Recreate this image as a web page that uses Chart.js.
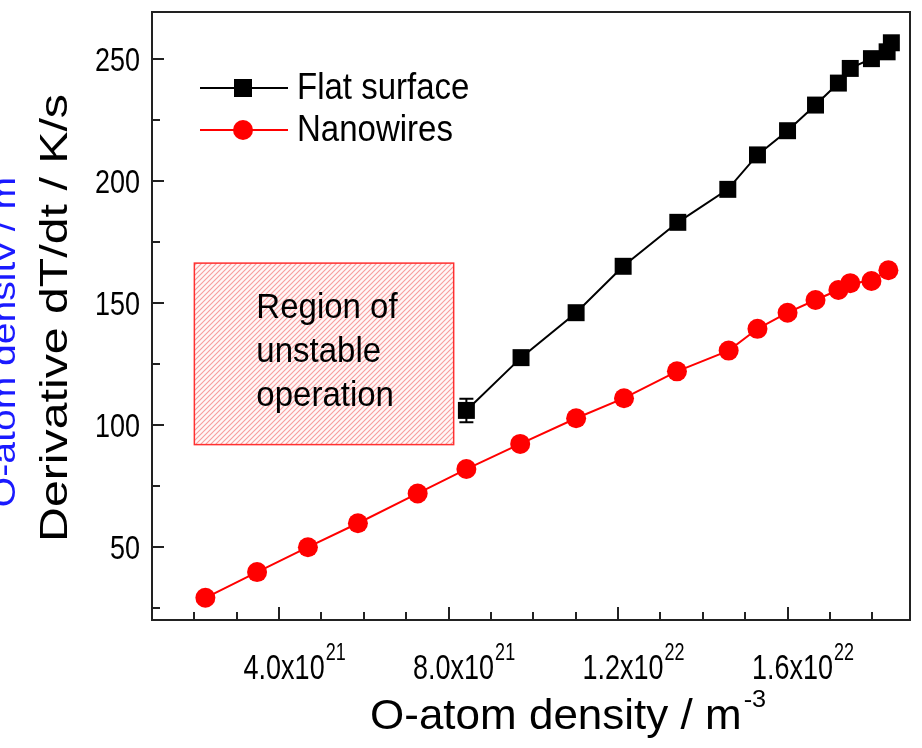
<!DOCTYPE html>
<html>
<head>
<meta charset="utf-8">
<script src="https://cdn.jsdelivr.net/npm/chart.js@4.4.1/dist/chart.umd.min.js"></script>
<style>
  html, body { margin: 0; padding: 0; background: #fff; }
  canvas { display: block; }
</style>
</head>
<body>
<canvas id="chart" width="922" height="748"></canvas>
<script>
// Nanowires (red circles)
const xNano = [2.26e21, 3.48e21, 4.68e21, 5.86e21, 7.27e21, 8.42e21, 9.69e21, 1.101e22, 1.214e22,
  1.339e22, 1.461e22, 1.529e22, 1.600e22, 1.666e22, 1.720e22, 1.748e22, 1.798e22, 1.838e22];
const yNano = [29.3, 39.8, 50, 59.8, 72, 82, 92.3, 102.8, 111, 122, 130.5, 139.4, 146, 151.2, 155.3, 158.1, 159, 163.4];

// Flat surface (black squares) with error bars
const xFlat = [8.42e21, 9.71e21, 1.101e22, 1.212e22, 1.341e22, 1.459e22, 1.529e22, 1.600e22, 1.666e22,
  1.720e22, 1.748e22, 1.798e22, 1.835e22, 1.845e22];
const yFlat = [106, 127.6, 146, 165, 183, 196.5, 210.6, 220.5, 231, 240, 246, 250, 252.8, 256.5];
const errFlat = [4.8, 1.5, 1.2, 1.2, 1.2, 1.5, 1.5, 1.2, 1.2, 1.2, 1.2, 1.2, 1.2, 1.2];

// axes
const xMin = 1e21, xMax = 1.889e22;
const yMin = 20.2, yMax = 269.1;
const xMinorTicks = [2e21, 3e21, 4e21, 5e21, 6e21, 7e21, 8e21, 9e21, 1e22, 1.1e22, 1.2e22, 1.3e22,
  1.4e22, 1.5e22, 1.6e22, 1.7e22, 1.8e22];
const xMajorTicks = [4e21, 8e21, 1.2e22, 1.6e22];
const xLabelBase = ['4.0x10', '8.0x10', '1.2x10', '1.6x10'];
const xLabelExp = ['21', '21', '22', '22'];
const yTicks = [25, 50, 75, 100, 125, 150, 175, 200, 225, 250];
const yMajorTicks = [50, 100, 150, 200, 250];

// unstable region box
const regionX = [2.0e21, 8.12e21];
const regionY = [92, 166.3];
const regionText = ['Region of', 'unstable', 'operation'];

const FONT = '"Liberation Sans", Arial, sans-serif';

function txt(ctx, s, x, y, size, o) {
  o = o || {};
  ctx.save();
  ctx.translate(x, y);
  if (o.rot) ctx.rotate(-Math.PI / 2);
  ctx.scale(o.sx || 1, o.sy || 1);
  ctx.font = size + 'px ' + FONT;
  ctx.textAlign = o.align || 'left';
  ctx.textBaseline = 'alphabetic';
  ctx.fillStyle = o.color || '#000';
  ctx.fillText(s, 0, 0);
  ctx.restore();
}

function hatch(ctx) {
  const p = document.createElement('canvas');
  p.width = p.height = 5;
  const g = p.getContext('2d');
  g.fillStyle = '#fff8f8';
  g.fillRect(0, 0, 5, 5);
  g.strokeStyle = 'rgba(242,96,96,0.6)';
  g.lineWidth = 1.1;
  g.beginPath();
  g.moveTo(-1, 6); g.lineTo(6, -1);
  g.moveTo(-1, 1); g.lineTo(1, -1);
  g.moveTo(4, 6); g.lineTo(6, 4);
  g.stroke();
  return ctx.createPattern(p, 'repeat');
}

const decor = {
  id: 'decor',
  beforeDatasetsDraw(chart) {
    const { ctx, scales: { x, y } } = chart;
    const l = x.getPixelForValue(regionX[0]), r = x.getPixelForValue(regionX[1]);
    const t = y.getPixelForValue(regionY[1]), b = y.getPixelForValue(regionY[0]);
    ctx.save();
    ctx.fillStyle = hatch(ctx);
    ctx.fillRect(l, t, r - l, b - t);
    ctx.strokeStyle = '#ff3030';
    ctx.lineWidth = 1.5;
    ctx.strokeRect(l, t, r - l, b - t);
    ctx.restore();
    regionText.forEach((s, i) => txt(ctx, s, l + 62, t + 55 + i * 44, 33, { sy: 1.05 }));
  },
  afterDatasetsDraw(chart) {
    const { ctx, scales: { x, y } } = chart;
    ctx.save();
    ctx.strokeStyle = '#000';
    ctx.lineWidth = 2;
    xFlat.forEach((v, i) => {
      const px = x.getPixelForValue(v);
      const top = y.getPixelForValue(yFlat[i] + errFlat[i]);
      const bot = y.getPixelForValue(yFlat[i] - errFlat[i]);
      ctx.beginPath();
      ctx.moveTo(px, top); ctx.lineTo(px, bot);
      ctx.moveTo(px - 7, top); ctx.lineTo(px + 7, top);
      ctx.moveTo(px - 7, bot); ctx.lineTo(px + 7, bot);
      ctx.stroke();
    });
    ctx.restore();
  },
  afterDraw(chart) {
    const { ctx, chartArea: a, scales: { x, y } } = chart;
    ctx.save();
    // frame
    ctx.strokeStyle = '#222';
    ctx.lineWidth = 2;
    ctx.strokeRect(a.left, a.top, a.right - a.left, a.bottom - a.top);
    // inward ticks
    ctx.beginPath();
    xMinorTicks.forEach(v => {
      const px = Math.round(x.getPixelForValue(v));
      const len = xMajorTicks.includes(v) ? 13 : 8;
      ctx.moveTo(px, a.bottom); ctx.lineTo(px, a.bottom - len);
    });
    yTicks.forEach(v => {
      const py = Math.round(y.getPixelForValue(v));
      const len = yMajorTicks.includes(v) ? 12 : 8;
      ctx.moveTo(a.left, py); ctx.lineTo(a.left + len, py);
    });
    ctx.stroke();
    ctx.restore();

    // tick labels
    yMajorTicks.forEach(v => {
      txt(ctx, String(v), a.left - 12, y.getPixelForValue(v) + 12, 27, { align: 'right', sy: 1.22 });
    });
    xMajorTicks.forEach((v, i) => {
      const px = x.getPixelForValue(v) + 5;
      ctx.font = '27px ' + FONT;
      const w = ctx.measureText(xLabelBase[i]).width;
      txt(ctx, xLabelBase[i], px, 679, 27, { align: 'center', sy: 1.32 });
      txt(ctx, xLabelExp[i], px + w / 2 + 1, 660, 18, { sy: 1.3 });
    });

    // axis titles
    ctx.font = '40px ' + FONT;
    const tw = ctx.measureText('O-atom density / m').width * 1.1;
    txt(ctx, 'O-atom density / m', 370, 729, 40, { sx: 1.1, sy: 1.05 });
    txt(ctx, '-3', 370 + tw + 2, 707, 23, { sx: 1.1, sy: 1.05 });
    txt(ctx, 'Derivative dT/dt / K/s', 67, 318, 38, { rot: true, align: 'center', sx: 1.27 });

    // clipped blue title at the left edge
    ctx.save();
    ctx.beginPath();
    ctx.rect(0, 0, 15, 748);
    ctx.clip();
    txt(ctx, 'O-atom density / m', 15, 342, 34, { rot: true, align: 'center', sx: 1.15, color: '#1a1aff' });
    ctx.restore();

    // legend
    const items = [
      { label: 'Flat surface', color: '#000', y: 88, square: true },
      { label: 'Nanowires', color: '#ff0000', y: 130, square: false }
    ];
    items.forEach(it => {
      ctx.save();
      ctx.strokeStyle = it.color;
      ctx.fillStyle = it.color;
      ctx.lineWidth = 2;
      ctx.beginPath();
      ctx.moveTo(200, it.y); ctx.lineTo(288, it.y);
      ctx.stroke();
      if (it.square) {
        ctx.fillRect(243 - 9, it.y - 9, 18, 18);
      } else {
        ctx.beginPath();
        ctx.arc(243, it.y, 10, 0, Math.PI * 2);
        ctx.fill();
      }
      ctx.restore();
      txt(ctx, it.label, 297, it.y + 11, 33, { sy: 1.1 });
    });
  }
};

new Chart(document.getElementById('chart'), {
  type: 'scatter',
  data: {
    datasets: [
      {
        label: 'Flat surface',
        data: xFlat.map((v, i) => ({ x: v, y: yFlat[i] })),
        showLine: true,
        borderColor: '#000',
        borderWidth: 2,
        pointStyle: 'rect',
        pointRadius: 12,
        pointBackgroundColor: '#000',
        pointBorderWidth: 0
      },
      {
        label: 'Nanowires',
        data: xNano.map((v, i) => ({ x: v, y: yNano[i] })),
        showLine: true,
        borderColor: '#ff0000',
        borderWidth: 2,
        pointStyle: 'circle',
        pointRadius: 10,
        pointBackgroundColor: '#ff0000',
        pointBorderWidth: 0
      }
    ]
  },
  options: {
    responsive: false,
    animation: false,
    devicePixelRatio: 1,
    layout: { padding: { left: 152, right: 9, top: 8, bottom: 128 } },
    plugins: { legend: { display: false }, tooltip: { enabled: false } },
    scales: {
      x: { type: 'linear', display: false, min: xMin, max: xMax },
      y: { type: 'linear', display: false, min: yMin, max: yMax }
    }
  },
  plugins: [decor]
});
</script>
</body>
</html>
